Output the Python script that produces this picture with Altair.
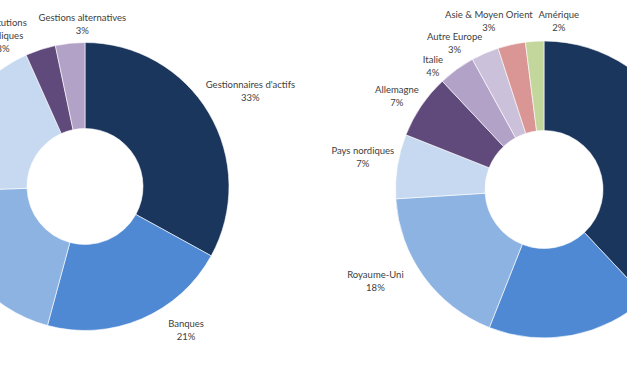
import math
import altair as alt
import pandas as pd

# ---- data (left donut: by type of client) ----
left_names = ["Gestionnaires d'actifs", "Banques", "Assureurs", "Fonds de pension",
              "Institutions publiques", "Gestions alternatives"]
left_text = ["Gestionnaires d'actifs", "Banques", "Assureurs", "Fonds de pension",
             "Institutions\npubliques", "Gestions alternatives"]
left_values = [33.0, 21.2, 20.3, 18.8, 3.4, 3.3]
left_unlabelled = ["Assureurs", "Fonds de pension"]   # their labels fall outside the frame

# ---- data (right donut: by country) ----
right_names = ["France", "Luxembourg", "Royaume-Uni", "Pays nordiques", "Allemagne",
               "Italie", "Autre Europe", "Asie & Moyen Orient", "Amérique"]
right_text = right_names
right_values = [38, 18, 18, 7, 7, 4, 3, 3, 2]
right_unlabelled = ["France", "Luxembourg"]

# ---- styles / layout ----
left_colors = ["#1B365D", "#5089D3", "#8DB3E2", "#C6D9F1", "#604A7B", "#B3A2C7"]
right_colors = ["#1B365D", "#5089D3", "#8DB3E2", "#C6D9F1", "#604A7B", "#B3A2C7",
                "#CCC1DA", "#D99694", "#C3D69B"]
left_center = (85, 186.5)
right_center = (544, 189.5)
left_radii = (58, 144)
right_radii = (59, 148.5)
# label placement tweaks (angle shift in degrees, distance from centre in px)
left_label_shift = [0.6, -12, 0, 0, -10.6, 5]
left_label_dist = [191, 176, 175, 175, 171, 162]
right_label_shift = [0, 0, 7.4, 1, -1.9, -6, -8.1, -5.6, 8.6]
right_label_dist = [190, 175, 192, 184, 174, 166, 171, 176.5, 169]

FONT = "Lato"
FONT_SIZE = 9.5
LINE_H = 13


def build(names, texts, values, shifts, dists, skip=()):
    df = pd.DataFrame({"name": names, "value": values, "idx": range(len(names))})
    total = sum(values)
    cum = df["value"].cumsum()
    mid = (cum - df["value"] / 2) / total * 360.0
    labels_txt = [f"{t}\n{round(v / total * 100):.0f}%" for t, v in zip(texts, values)]
    lt, lr = [], []
    for m, s, d, txt in zip(mid, shifts, dists, labels_txt):
        a = math.radians((m + s) % 360.0)
        # centre of the label block, then move the anchor to its first line
        cx, cy = d * math.sin(a), -d * math.cos(a)
        n = txt.count("\n") + 1
        cy -= (n - 1) * LINE_H / 2
        lr.append(math.hypot(cx, cy))
        lt.append(math.atan2(cx, -cy) % (2 * math.pi))
    df["lt"] = lt
    df["lr"] = lr
    df["label"] = labels_txt
    lab = df[~df["name"].isin(list(skip))]
    return df, lab


ldf, llab = build(left_names, left_text, left_values, left_label_shift, left_label_dist,
                  left_unlabelled)
rdf, rlab = build(right_names, right_text, right_values, right_label_shift, right_label_dist,
                  right_unlabelled)


def donut(df, colors, center, radii):
    return alt.Chart(df).mark_arc(
        x=center[0], y=center[1], innerRadius=radii[0], outerRadius=radii[1],
        stroke="#ffffff", strokeWidth=0.6,
    ).encode(
        theta=alt.Theta("value:Q", stack=True),
        order=alt.Order("idx:Q"),
        color=alt.Color("name:N", scale=alt.Scale(domain=list(df["name"]), range=colors),
                        legend=None),
    )


def labels(df, center):
    return alt.Chart(df).mark_text(
        x=center[0], y=center[1], lineBreak="\n", align="center", baseline="middle",
        font=FONT, fontSize=FONT_SIZE, color="#404040", lineHeight=LINE_H,
    ).encode(
        theta=alt.Theta("lt:Q", scale=None),
        radius=alt.Radius("lr:Q", scale=None),
        text="label:N",
    )


chart = alt.layer(
    donut(ldf, left_colors, left_center, left_radii),
    donut(rdf, right_colors, right_center, right_radii),
    labels(llab, left_center),
    labels(rlab, right_center),
).resolve_scale(
    theta="independent", color="independent", radius="independent"
).properties(
    width=627, height=376, padding=0,
    autosize=alt.AutoSizeParams(type="none"),
    background="#ffffff",
).configure_view(stroke=None)

chart.save("out.html", embed_options={"renderer": "svg", "actions": False})
